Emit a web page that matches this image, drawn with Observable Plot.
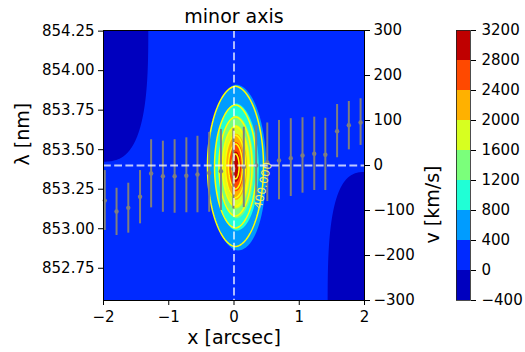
<!DOCTYPE html>
<html><head><meta charset="utf-8">
<script src="https://cdn.jsdelivr.net/npm/d3@7"></script>
<script src="https://cdn.jsdelivr.net/npm/@observablehq/plot@0.6"></script>
<style>
html,body{margin:0;padding:0;background:#fff;}
#wrap{position:relative;width:525px;height:352px;overflow:hidden;}
#wrap svg{position:absolute;left:0;top:0;}
</style></head><body><div id="wrap"></div>
<script>
// ---- data ----
const LAMBDA0 = 853.40;          // nm, v = 0
const C_KMS = 299792.458;
const xTicks = [-2, -1, 0, 1, 2];
const lambdaTicks = [852.75, 853.00, 853.25, 853.50, 853.75, 854.00, 854.25];
const vTicks = [-300, -200, -100, 0, 100, 200, 300];
const levels = [-400, 0, 400, 800, 1200, 1600, 2000, 2400, 2800, 3200];
const lineLevels = [400, 800, 1200, 1600, 2000, 2400, 2800];
const jetColors = ["#0000bf", "#002aff", "#009cff", "#20ffd6", "#7bff7b", "#d7ff20", "#ffb100", "#ff4900", "#bf0000"];

// slit positions with line centroid and its range
const slitX = [-1.98, -1.80, -1.62, -1.44, -1.27, -1.09, -0.91, -0.73, -0.56, -0.38, -0.20, -0.01, 0.15, 0.34, 0.51, 0.69, 0.87, 1.05, 1.23, 1.40, 1.58, 1.76, 1.94];
const lamCenter = [853.178, 853.109, 853.132, 853.202, 853.349, 853.332, 853.332, 853.335, 853.343, 853.353, 853.364, 853.379, 853.391, 853.400, 853.419, 853.432, 853.446, 853.463, 853.474, 853.468, 853.617, 853.655, 853.672];
const lamHigh = [853.368, 853.256, 853.288, 853.368, 853.563, 853.554, 853.563, 853.575, 853.585, 853.609, 853.628, 853.632, 853.642, 853.653, 853.669, 853.685, 853.696, 853.702, 853.706, 853.699, 853.786, 853.805, 853.822];
const lamLow = [852.989, 852.957, 852.972, 853.031, 853.132, 853.104, 853.098, 853.101, 853.101, 853.104, 853.115, 853.125, 853.134, 853.172, 853.172, 853.183, 853.204, 853.225, 853.242, 853.242, 853.449, 853.499, 853.527];

// emission map components
const mapBackground = 100;
const peakCenter = [0.023, 853.394];
const peakScale = [0.256, 0.316];
const peakShape = [1.6, 1.75];
const peakAmp = 2950;
const wingCenter = [0.25, 853.30];
const wingScale = [0.2, 0.35];
const wingAmp = 200;
const dipX = [-2.05, 2.05];
const dipL = [854.30, 852.50];
const dipScaleX = [0.714, 0.596];
const dipScaleL = [0.849, 0.833];
const dipAmp = [300, 300];
const labelPos = [0.445, 853.273];
const labelText = ["400.000"];

// ---- helpers ----
const minus = (s) => String(s).replace("-", "\u2212");
const v2l = (v) => LAMBDA0 * (1 + v / C_KMS);
const l2v = (l) => (l / LAMBDA0 - 1) * C_KMS;

function peakField(x, l) {
  const u = Math.abs((x - peakCenter[0]) / peakScale[0]);
  const w = Math.abs((l - peakCenter[1]) / peakScale[1]);
  const k = peakShape[0] / peakShape[1];
  const rho = Math.sqrt(Math.pow(u, 2 * k) + w * w);
  return peakAmp * Math.exp(-Math.pow(rho, peakShape[1]));
}
function dipField(x, l) {
  let s = 0;
  for (let i = 0; i < dipX.length; i++) {
    const u = Math.abs((x - dipX[i]) / dipScaleX[i]);
    const w = Math.abs((l - dipL[i]) / dipScaleL[i]);
    s -= dipAmp[i] * Math.exp(-(u * u * u + w * w * w));
  }
  return s;
}
function wingField(x, l) {
  const u = (x - wingCenter[0]) / wingScale[0];
  const w = (l - wingCenter[1]) / wingScale[1];
  return wingAmp * Math.exp(-0.5 * (u * u + w * w));
}
const observed = (x, l) => mapBackground + peakField(x, l) + wingField(x, l) + dipField(x, l);
const model = (x, l) => mapBackground + peakField(x, l);

const bars = slitX.map((x, i) => ({x, c: lamCenter[i], lo: lamLow[i], hi: lamHigh[i]}));

const yDomain = [v2l(-300), v2l(300)];
const colorScale = {type: "threshold", domain: levels.slice(1, -1), range: jetColors};
const font = {fontFamily: "DejaVu Sans", fontSize: "15px", color: "black", background: "transparent", overflow: "visible"};

const main = Plot.plot({
  width: 525, height: 352,
  marginLeft: 103, marginRight: 161, marginTop: 30, marginBottom: 52,
  style: font,
  x: {domain: [-2, 2]},
  y: {domain: yDomain},
  color: colorScale,
  marks: [
    Plot.contour({fill: observed, x1: -2, x2: 2, y1: yDomain[0], y2: yDomain[1], thresholds: levels.slice(0, -1), stroke: "none", pixelSize: 1}),
    Plot.contour({value: model, x1: -2, x2: 2, y1: yDomain[0], y2: yDomain[1], thresholds: lineLevels, stroke: "#ffff00", fill: "none", strokeWidth: 1.5, pixelSize: 1}),
    Plot.ruleX(bars, {x: "x", y1: "lo", y2: "hi", stroke: "#7f7f7f", strokeWidth: 2}),
    Plot.dot(bars, {x: "x", y: "c", r: 2.2, fill: "#7f7f7f", stroke: "none"}),
    Plot.text(labelText, {x: () => labelPos[0], y: () => labelPos[1], rotate: -77.5, fill: "#eeee66", fontSize: 11.5}),
    Plot.ruleX([0], {stroke: "white", strokeOpacity: 0.75, strokeWidth: 1.8, strokeDasharray: "7.8,3.4"}),
    Plot.ruleY([LAMBDA0], {stroke: "white", strokeOpacity: 0.75, strokeWidth: 1.8, strokeDasharray: "7.8,3.4"}),
    Plot.frame({stroke: "black", strokeWidth: 1}),
    Plot.axisX({ticks: xTicks, tickSize: 5, tickPadding: 6, tickFormat: minus, label: null}),
    Plot.axisY({anchor: "left", ticks: lambdaTicks, tickSize: 5, tickPadding: 4, tickFormat: (d) => d.toFixed(2), label: null}),
    Plot.axisY({anchor: "right", ticks: vTicks.map(v2l), tickSize: 5, tickPadding: 4, tickFormat: (d) => minus(Math.round(l2v(d) / 100) * 100), label: null}),
    Plot.text(["minor axis"], {frameAnchor: "top", lineAnchor: "middle", dy: -14, fontSize: 19}),
    Plot.text(["x [arcsec]"], {frameAnchor: "bottom", lineAnchor: "middle", dy: 37, fontSize: 19}),
    Plot.text(["\u03bb [nm]"], {frameAnchor: "left", lineAnchor: "middle", dx: -81, rotate: -90, fontSize: 19}),
    Plot.text(["v [km/s]"], {frameAnchor: "right", lineAnchor: "middle", dx: 68, rotate: -90, fontSize: 19})
  ]
});

const cbar = Plot.plot({
  width: 525, height: 352,
  marginLeft: 456, marginRight: 55, marginTop: 30, marginBottom: 52,
  style: font,
  x: {domain: [0, 1], axis: null},
  y: {domain: [levels[0], levels[levels.length - 1]]},
  color: colorScale,
  marks: [
    Plot.rect(levels.slice(0, -1), {x1: () => 0, x2: () => 1, y1: (d) => d, y2: (d, i) => levels[i + 1], fill: (d) => d}),
    Plot.frame({stroke: "#222", strokeWidth: 0.8}),
    Plot.axisY({anchor: "right", ticks: levels, tickSize: 5, tickPadding: 6, tickFormat: minus, label: null})
  ]
});
cbar.style.pointerEvents = "none";

const wrap = document.getElementById("wrap");
wrap.appendChild(main);
wrap.appendChild(cbar);
</script></body></html>
